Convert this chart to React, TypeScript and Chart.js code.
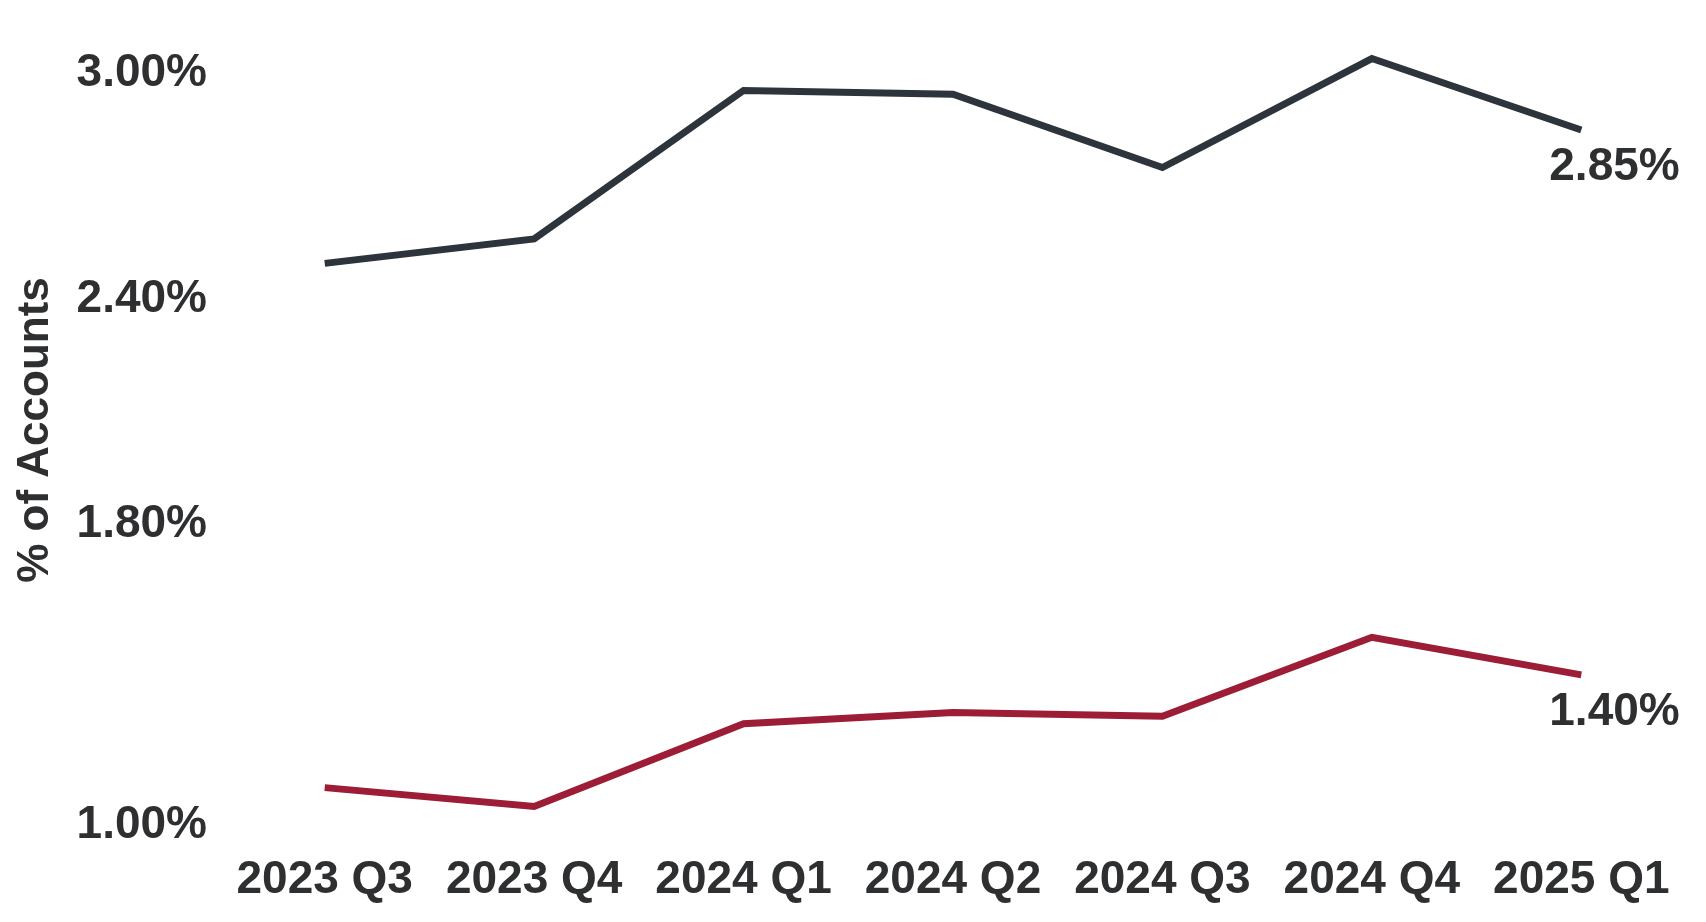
import React, { useEffect, useRef } from "react";
import { Chart, registerables } from "chart.js";

Chart.register(...registerables);

const categories = ["2023 Q3", "2023 Q4", "2024 Q1", "2024 Q2", "2024 Q3", "2024 Q4", "2025 Q1"];
const upperSeries = [2.495, 2.56, 2.955, 2.945, 2.75, 3.04, 2.85];
const lowerSeries = [1.10, 1.05, 1.27, 1.30, 1.29, 1.50, 1.40];
const yTicks = [1.0, 1.8, 2.4, 3.0];
const endLabels = ["2.85%", "1.40%"];
const yTitle = "% of Accounts";

const FONT = "'Liberation Sans', Arial, sans-serif";
const TEXT = "#2e2f31";

const endLabelPlugin = {
  id: "endLabels",
  afterDatasetsDraw(chart: any) {
    const ctx = chart.ctx;
    ctx.save();
    ctx.font = `bold 46px ${FONT}`;
    ctx.fillStyle = TEXT;
    ctx.textAlign = "left";
    ctx.textBaseline = "middle";
    chart.data.datasets.forEach((_ds: any, i: number) => {
      const meta = chart.getDatasetMeta(i);
      const pt = meta.data[meta.data.length - 1];
      if (!pt) return;
      ctx.fillText(endLabels[i], pt.x - 32, pt.y + 37);
    });
    // rotated y-axis title
    ctx.font = `bold 44px ${FONT}`;
    ctx.textAlign = "center";
    ctx.textBaseline = "middle";
    ctx.translate(36, 430);
    ctx.rotate(-Math.PI / 2);
    ctx.fillText(yTitle, 0, 0);
    ctx.restore();
  },
};

export default function App() {
  const ref = useRef<HTMLCanvasElement | null>(null);
  useEffect(() => {
    if (!ref.current) return;
    const chart = new Chart(ref.current, {
      type: "line",
      data: {
        labels: categories,
        datasets: [
          {
            data: upperSeries,
            borderColor: "#2d343c",
            borderWidth: 7,
            pointRadius: 0,
            tension: 0,
            fill: false,
          },
          {
            data: lowerSeries,
            borderColor: "#9c1d35",
            borderWidth: 7,
            pointRadius: 0,
            tension: 0,
            fill: false,
          },
        ],
      },
      options: {
        animation: false,
        responsive: true,
        maintainAspectRatio: false,
        layout: { padding: { top: 36, right: 20, left: 0, bottom: 0 } },
        plugins: { legend: { display: false }, tooltip: { enabled: false } },
        scales: {
          x: {
            type: "category",
            offset: true,
            grid: { display: false },
            border: { display: false },
            ticks: {
              color: TEXT,
              font: { family: FONT, size: 46, weight: "bold" },
              padding: 1,
              maxRotation: 0,
              autoSkip: false,
            },
            afterFit(scale: any) {
              scale.height = 78;
            },
          },
          y: {
            type: "linear",
            min: 0.95,
            max: 3.1,
            grid: { display: false },
            border: { display: false },
            afterBuildTicks(scale: any) {
              scale.ticks = yTicks.map((v) => ({ value: v }));
            },
            ticks: {
              color: TEXT,
              font: { family: FONT, size: 46, weight: "bold" },
              padding: 5,
              callback: (v: any) => Number(v).toFixed(2) + "%",
            },
            afterFit(scale: any) {
              scale.width = 220;
            },
          },
        },
      },
      plugins: [endLabelPlugin],
    });
    return () => chart.destroy();
  }, []);
  return (
    <div style={{ position: "fixed", left: 0, top: 0, width: 1706, height: 922, background: "#fff" }}>
      <canvas ref={ref} />
    </div>
  );
}
